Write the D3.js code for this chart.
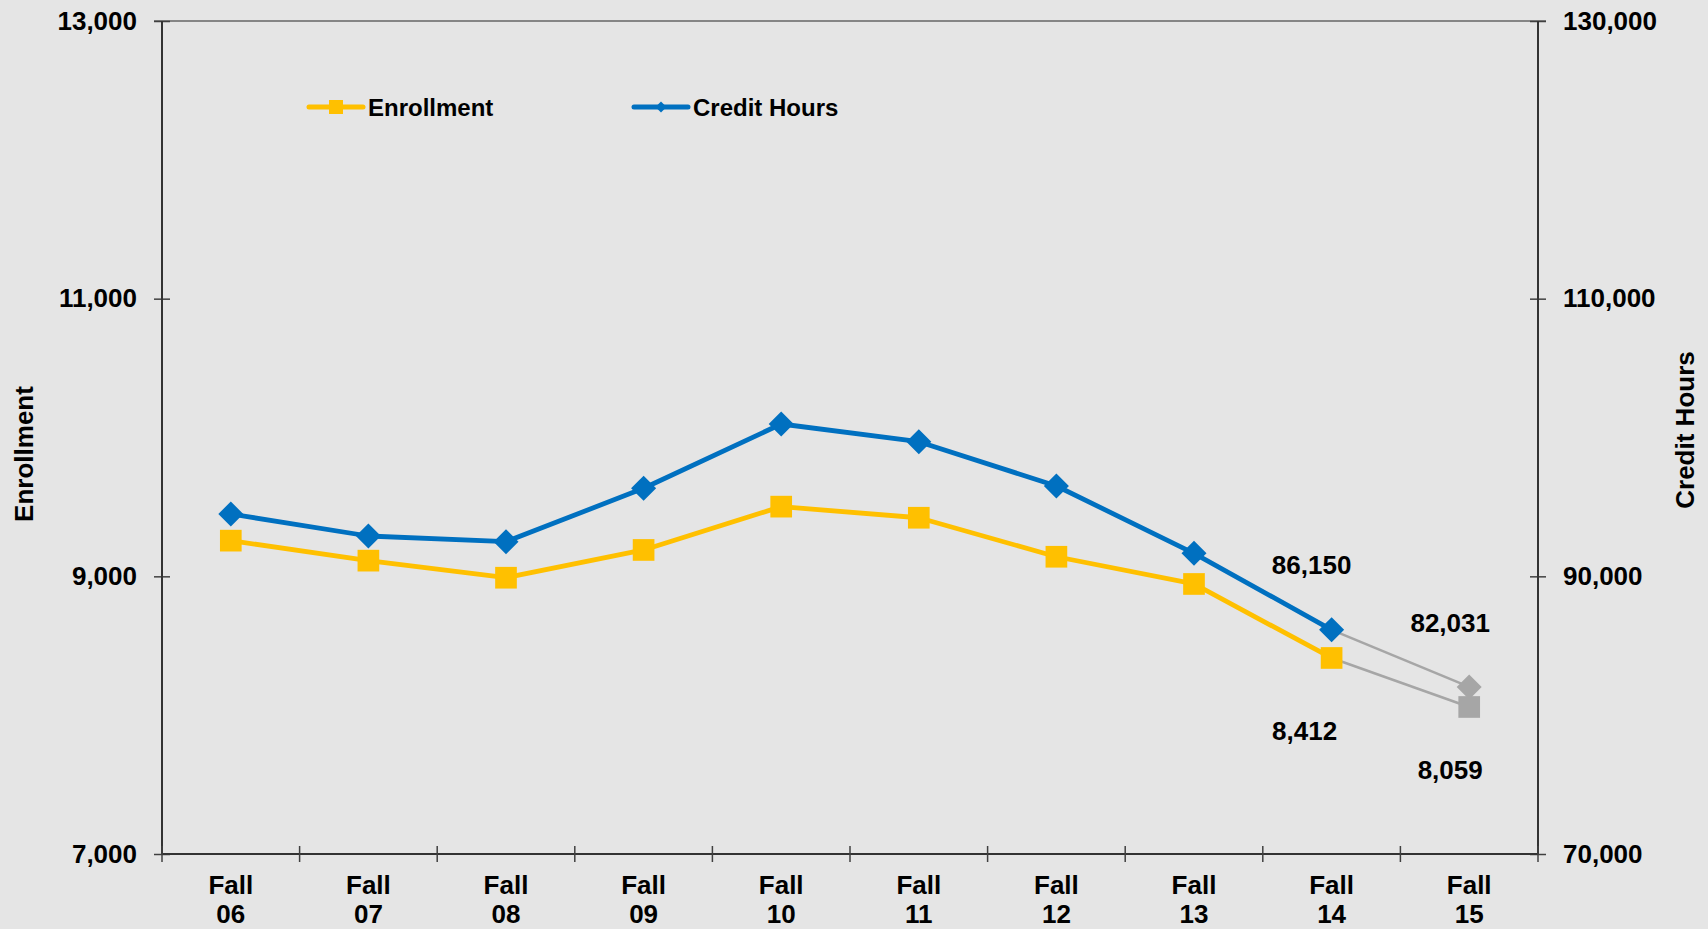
<!DOCTYPE html>
<html>
<head>
<meta charset="utf-8">
<script src="https://cdn.jsdelivr.net/npm/d3@7"></script>
<style>
  html, body { margin: 0; padding: 0; background: #e5e5e5; }
  svg { display: block; font-family: Arial, "Liberation Sans", sans-serif; font-weight: bold; }
</style>
</head>
<body>
<svg width="1708" height="929"></svg>
<script>
// chart values
var categories = ["Fall 06", "Fall 07", "Fall 08", "Fall 09", "Fall 10", "Fall 11", "Fall 12", "Fall 13", "Fall 14", "Fall 15"];
var enrollment = [9257, 9113, 8990, 9190, 9502, 9422, 9141, 8945, 8412, 8059];
var creditHours = [94490, 92905, 92495, 96341, 100972, 99697, 96507, 91659, 86150, 82031];
var leftTicks = [7000, 9000, 11000, 13000];
var rightTicks = [70000, 90000, 110000, 130000];

var svg = d3.select("svg"),
    width = +svg.attr("width"),
    height = +svg.attr("height"),
    margin = {top: 21, right: 170, bottom: 75, left: 162};

var fmt = d3.format(",");
var yellow = "#ffc000", blue = "#0070c0", grey = "#a6a6a6";

var x = d3.scaleBand()
    .domain(categories)
    .range([margin.left, width - margin.right])
    .paddingInner(0).paddingOuter(0);
var cx = function(c) { return x(c) + x.bandwidth() / 2; };

var yL = d3.scaleLinear().domain([7000, 13000]).range([height - margin.bottom, margin.top]);
var yR = d3.scaleLinear().domain([70000, 130000]).range([height - margin.bottom, margin.top]);

var x0 = margin.left, x1 = width - margin.right, yb = height - margin.bottom;

// top border
svg.append("line")
    .attr("x1", x0 - 8).attr("x2", x1 + 8)
    .attr("y1", margin.top).attr("y2", margin.top)
    .attr("stroke", "#858585").attr("stroke-width", 2);

// left axis
var gl = svg.append("g")
    .attr("transform", "translate(" + x0 + ",0)")
    .call(d3.axisLeft(yL).tickValues(leftTicks).tickFormat(fmt).tickSize(8).tickPadding(17));
gl.select(".domain").remove();
gl.selectAll(".tick line").attr("x1", 8).attr("stroke", "#404040").attr("stroke-width", 1.5);
gl.selectAll(".tick text").attr("font-size", 26).attr("fill", "#000").attr("font-family", null);
gl.append("line").attr("y1", margin.top).attr("y2", yb).attr("stroke", "#333").attr("stroke-width", 2);

// right axis
var gr = svg.append("g")
    .attr("transform", "translate(" + x1 + ",0)")
    .call(d3.axisRight(yR).tickValues(rightTicks).tickFormat(fmt).tickSize(8).tickPadding(17));
gr.select(".domain").remove();
gr.selectAll(".tick line").attr("x1", -8).attr("stroke", "#404040").attr("stroke-width", 1.5);
gr.selectAll(".tick text").attr("font-size", 26).attr("fill", "#000").attr("font-family", null);
gr.append("line").attr("y1", margin.top).attr("y2", yb).attr("stroke", "#333").attr("stroke-width", 2);

// bottom axis
var gb = svg.append("g").attr("transform", "translate(0," + yb + ")");
gb.append("line").attr("x1", x0).attr("x2", x1).attr("stroke", "#333").attr("stroke-width", 2);
gb.selectAll(".tk")
    .data(categories.concat(["end"]))
    .enter().append("line")
    .attr("x1", function(d) { return d === "end" ? x1 : x(d); })
    .attr("x2", function(d) { return d === "end" ? x1 : x(d); })
    .attr("y1", -8).attr("y2", 8)
    .attr("stroke", "#404040").attr("stroke-width", 1.5);
var lab = gb.selectAll(".lab")
    .data(categories)
    .enter().append("text")
    .attr("text-anchor", "middle")
    .attr("font-size", 26)
    .attr("fill", "#000");
lab.each(function(d) {
    var parts = d.split(" ");
    var t = d3.select(this);
    t.append("tspan").attr("x", cx(d)).attr("y", 40).text(parts[0]);
    t.append("tspan").attr("x", cx(d)).attr("y", 69).text(parts[1]);
});

// axis titles
svg.append("text")
    .attr("transform", "translate(33,454) rotate(-90)")
    .attr("text-anchor", "middle").attr("font-size", 26)
    .text("Enrollment");
svg.append("text")
    .attr("transform", "translate(1694,430) rotate(-90)")
    .attr("text-anchor", "middle").attr("font-size", 26)
    .text("Credit Hours");

// series lines: last segment in grey
var last = categories.length - 1;
function drawSeries(vals, scale, color) {
    var pts = vals.map(function(v, i) { return [cx(categories[i]), scale(v)]; });
    svg.append("path")
        .attr("d", d3.line()(pts.slice(last - 1)))
        .attr("fill", "none").attr("stroke", grey).attr("stroke-width", 2.5);
    svg.append("path")
        .attr("d", d3.line()(pts.slice(0, last)))
        .attr("fill", "none").attr("stroke", color).attr("stroke-width", 4.8)
        .attr("stroke-linejoin", "round");
    return pts;
}
var ePts = drawSeries(enrollment, yL, yellow);
var cPts = drawSeries(creditHours, yR, blue);

var square = d3.symbol().type(d3.symbolSquare).size(470);
var diamond = d3.symbol().type(d3.symbolSquare).size(313);

svg.selectAll(".sq")
    .data(ePts)
    .enter().append("path")
    .attr("d", square)
    .attr("transform", function(d) { return "translate(" + d[0] + "," + d[1] + ")"; })
    .attr("fill", function(d, i) { return i === last ? grey : yellow; });

svg.selectAll(".dm")
    .data(cPts)
    .enter().append("path")
    .attr("d", diamond)
    .attr("transform", function(d) { return "translate(" + d[0] + "," + d[1] + ") rotate(45)"; })
    .attr("fill", function(d, i) { return i === last ? grey : blue; });

// data labels for the last two points
var labelLayout = [
    {series: "c", i: 8, dx: -20, dy: -56},
    {series: "c", i: 9, dx: -19, dy: -55},
    {series: "e", i: 8, dx: -27, dy: 82},
    {series: "e", i: 9, dx: -19, dy: 72}
];
svg.selectAll(".dl")
    .data(labelLayout)
    .enter().append("text")
    .attr("text-anchor", "middle")
    .attr("font-size", 26)
    .attr("x", function(d) { return (d.series === "c" ? cPts : ePts)[d.i][0] + d.dx; })
    .attr("y", function(d) { return (d.series === "c" ? cPts : ePts)[d.i][1] + d.dy; })
    .text(function(d) { return fmt(d.series === "c" ? creditHours[d.i] : enrollment[d.i]); });

// legend
var legend = [
    {name: "Enrollment", color: yellow, sym: d3.symbol().type(d3.symbolSquare).size(196), rot: 0, x: 309},
    {name: "Credit Hours", color: blue, sym: d3.symbol().type(d3.symbolSquare).size(60), rot: 45, x: 634}
];
var lg = svg.selectAll(".lg").data(legend).enter().append("g")
    .attr("transform", function(d) { return "translate(" + d.x + ",107)"; });
lg.append("line").attr("x1", 0).attr("x2", 54)
    .attr("stroke", function(d) { return d.color; }).attr("stroke-width", 5).attr("stroke-linecap", "round");
lg.append("path").attr("d", function(d) { return d.sym(); })
    .attr("transform", function(d) { return "translate(27,0) rotate(" + d.rot + ")"; })
    .attr("fill", function(d) { return d.color; });
lg.append("text").attr("x", 59).attr("y", 9).attr("font-size", 24).text(function(d) { return d.name; });
</script>
</body>
</html>
